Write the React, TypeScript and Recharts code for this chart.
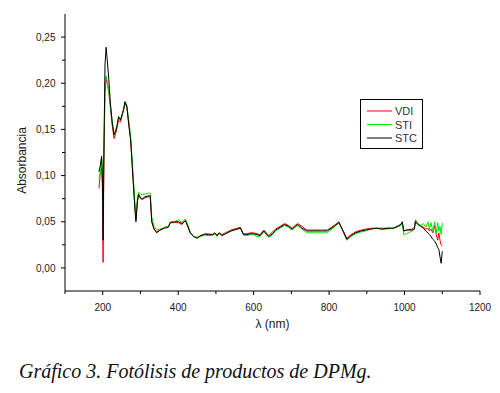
import { LineChart, Line, XAxis, YAxis, Legend } from "recharts";

// wavelength grid (nm) shared by all three spectra
const wavelengths = [
  190, 194, 197, 199, 201, 203, 206, 209, 212, 216, 220, 225, 230, 234, 238,
  242, 247, 252, 256, 259, 264, 270, 274, 280, 285, 288, 292, 295, 300, 305,
  312, 320, 326, 330, 336, 343, 352, 364, 374, 379, 390, 401, 410, 419, 426,
  432, 441, 450, 460, 470, 480, 490, 497, 503, 509, 516, 525, 540, 556, 565,
  573, 582, 591, 600, 609, 617, 627, 640, 650, 658, 670, 682, 692, 702, 710,
  717, 728, 741, 760, 780, 795, 810, 826, 835, 847, 858, 870, 885, 897, 910,
  925, 940, 955, 970, 981, 990, 994, 998, 1005, 1020, 1026, 1029, 1035, 1043,
  1050, 1056, 1062, 1066, 1070, 1075, 1080, 1084, 1088, 1091, 1094, 1097, 1100,
];

const vdi = [
  0.086, 0.104, 0.108, 0.09, 0.006, 0.11, 0.19, 0.205, 0.2, 0.19, 0.175, 0.155, 0.14, 0.145, 0.152,
  0.16, 0.158, 0.166, 0.172, 0.178, 0.174, 0.152, 0.139, 0.1, 0.068, 0.053, 0.072, 0.079, 0.075, 0.074,
  0.076, 0.077, 0.077, 0.05, 0.042, 0.039, 0.041, 0.044, 0.045, 0.049, 0.049, 0.049, 0.047, 0.052, 0.044,
  0.038, 0.034, 0.033, 0.035, 0.037, 0.037, 0.036, 0.037, 0.036, 0.038, 0.036, 0.038, 0.041, 0.043, 0.044,
  0.037, 0.037, 0.038, 0.038, 0.037, 0.036, 0.041, 0.035, 0.039, 0.042, 0.045, 0.048, 0.046, 0.043, 0.046,
  0.048, 0.045, 0.041, 0.041, 0.041, 0.041, 0.045, 0.05, 0.042, 0.032, 0.036, 0.039, 0.041, 0.042, 0.043,
  0.043, 0.043, 0.043, 0.043, 0.045, 0.047, 0.049, 0.04, 0.041, 0.042, 0.044, 0.052, 0.048, 0.046,
  0.044, 0.042, 0.043, 0.04, 0.042, 0.038, 0.046, 0.036, 0.03, 0.038, 0.03, 0.025, 0.024,
];

const sti = [
  0.095, 0.105, 0.12, 0.11, 0.06, 0.13, 0.2, 0.208, 0.202, 0.192, 0.178, 0.158, 0.146, 0.149, 0.155,
  0.163, 0.161, 0.167, 0.173, 0.18, 0.176, 0.156, 0.142, 0.105, 0.072, 0.056, 0.076, 0.082, 0.08, 0.079,
  0.08, 0.081, 0.081, 0.055, 0.045, 0.041, 0.042, 0.044, 0.045, 0.05, 0.05, 0.052, 0.049, 0.053, 0.046,
  0.038, 0.034, 0.033, 0.034, 0.036, 0.035, 0.035, 0.037, 0.034, 0.037, 0.035, 0.037, 0.04, 0.042, 0.043,
  0.036, 0.035, 0.036, 0.036, 0.034, 0.034, 0.039, 0.033, 0.036, 0.04, 0.043, 0.046, 0.044, 0.041, 0.044,
  0.046, 0.042, 0.038, 0.038, 0.038, 0.038, 0.043, 0.049, 0.041, 0.03, 0.034, 0.037, 0.039, 0.04, 0.042,
  0.043, 0.042, 0.042, 0.043, 0.044, 0.046, 0.048, 0.036, 0.037, 0.04, 0.042, 0.051, 0.048, 0.046,
  0.048, 0.044, 0.05, 0.042, 0.049, 0.04, 0.05, 0.038, 0.049, 0.04, 0.045, 0.036, 0.049,
];

const stc = [
  0.104, 0.112, 0.121, 0.1, 0.03, 0.12, 0.22, 0.239, 0.225, 0.205, 0.18, 0.158, 0.144, 0.148, 0.154,
  0.164, 0.16, 0.167, 0.173, 0.18, 0.175, 0.152, 0.139, 0.098, 0.066, 0.05, 0.072, 0.08, 0.076, 0.075,
  0.077, 0.078, 0.078, 0.05, 0.042, 0.038, 0.041, 0.043, 0.044, 0.049, 0.05, 0.05, 0.048, 0.051, 0.045,
  0.038, 0.034, 0.032, 0.035, 0.036, 0.036, 0.036, 0.038, 0.035, 0.038, 0.035, 0.037, 0.04, 0.042, 0.043,
  0.036, 0.036, 0.037, 0.037, 0.036, 0.035, 0.04, 0.034, 0.037, 0.041, 0.044, 0.047, 0.045, 0.042, 0.045,
  0.047, 0.043, 0.04, 0.04, 0.04, 0.04, 0.044, 0.049, 0.042, 0.031, 0.035, 0.038, 0.04, 0.041, 0.042,
  0.043, 0.042, 0.043, 0.043, 0.045, 0.047, 0.05, 0.04, 0.041, 0.041, 0.042, 0.05, 0.047, 0.045,
  0.043, 0.04, 0.038, 0.036, 0.034, 0.031, 0.029, 0.026, 0.022, 0.02, 0.012, 0.005, 0.018,
];

const xTicks = [100, 200, 300, 400, 500, 600, 700, 800, 900, 1000, 1100, 1200];
const yTicks = [0, 0.025, 0.05, 0.075, 0.1, 0.125, 0.15, 0.175, 0.2, 0.225, 0.25];

const series = [
  { key: "vdi", name: "VDI", color: "#ff0000" },
  { key: "sti", name: "STI", color: "#00ee00" },
  { key: "stc", name: "STC", color: "#000000" },
];

const data = wavelengths.map((wl, i) => ({ wl, vdi: vdi[i], sti: sti[i], stc: stc[i] }));

const TEXT = "#1a1a1a";
const SANS = "Arial, 'Liberation Sans', sans-serif";

const XTick = ({ x, y, payload }: any) => {
  const major = payload.value % 200 === 0;
  return (
    <g>
      <line x1={x} x2={x} y1={y} y2={y + (major ? 4 : 3)} stroke="#000" />
      {major && (
        <text x={x} y={y + 19.5} textAnchor="middle" fontSize={10} fontFamily={SANS} fill={TEXT}>
          {payload.value}
        </text>
      )}
    </g>
  );
};

const YTick = ({ x, y, payload }: any) => {
  const major = Math.round(payload.value * 1000) % 50 === 0;
  return (
    <g>
      <line x1={x} x2={x - (major ? 4 : 3)} y1={y} y2={y} stroke="#000" />
      {major && (
        <text x={x - 9.5} y={y + 3.6} textAnchor="end" fontSize={10} fontFamily={SANS} fill={TEXT}>
          {payload.value.toFixed(2).replace(".", ",")}
        </text>
      )}
    </g>
  );
};

const YTitle = ({ viewBox }: any) => {
  const cx = viewBox.x + 22;
  const cy = viewBox.y + viewBox.height / 2 + 8;
  return (
    <text
      x={cx}
      y={cy}
      transform={`rotate(-90 ${cx} ${cy})`}
      textAnchor="middle"
      dominantBaseline="central"
      fontSize={12}
      fontFamily={SANS}
      fill={TEXT}
    >
      Absorbancia
    </text>
  );
};

const XTitle = ({ viewBox }: any) => (
  <text
    x={viewBox.x + viewBox.width / 2}
    y={viewBox.y + 37}
    textAnchor="middle"
    fontSize={12}
    fontFamily={SANS}
    fill={TEXT}
  >
    λ (nm)
  </text>
);

// framed legend box, as in the original Origin plot
const LegendBox = () => (
  <svg width={63} height={50} style={{ display: "block" }}>
    <rect x={0.5} y={0.5} width={62} height={49} fill="#fff" stroke="#000" />
    {series.map((s, i) => {
      const cy = 12 + i * 13.5;
      return (
        <g key={s.key}>
          <line x1={7} x2={32} y1={cy} y2={cy} stroke={s.color} strokeWidth={1} />
          <text x={35} y={cy + 4} fontSize={11} fontFamily={SANS} fill="#333">
            {s.name}
          </text>
        </g>
      );
    })}
  </svg>
);

export default function App() {
  return (
    <div style={{ position: "absolute", left: 0, top: 0, width: 500, height: 393, background: "#fff" }}>
      <LineChart
        width={500}
        height={393}
        data={data}
        margin={{ top: 14, right: 20, bottom: 62, left: 0 }}
      >
        <XAxis
          dataKey="wl"
          type="number"
          domain={[100, 1200]}
          ticks={xTicks}
          interval={0}
          height={40}
          tickSize={0}
          tickMargin={0}
          tickLine={false}
          axisLine={{ stroke: "#000" }}
          tick={<XTick />}
          label={<XTitle />}
          allowDataOverflow
        />
        <YAxis
          type="number"
          domain={[-0.025, 0.275]}
          ticks={yTicks}
          interval={0}
          width={65}
          tickSize={0}
          tickMargin={0}
          tickLine={false}
          axisLine={{ stroke: "#000" }}
          tick={<YTick />}
          label={<YTitle />}
          allowDataOverflow
        />
        <Legend
          layout="vertical"
          align="center"
          verticalAlign="middle"
          content={<LegendBox />}
          wrapperStyle={{ left: 360, top: 99, width: 63, height: 50 }}
        />
        {series.map((s) => (
          <Line
            key={s.key}
            type="linear"
            dataKey={s.key}
            name={s.name}
            stroke={s.color}
            strokeWidth={1}
            dot={false}
            isAnimationActive={false}
          />
        ))}
      </LineChart>
      <div
        style={{
          position: "absolute",
          left: 19,
          top: 361,
          fontFamily: "'Liberation Serif', 'Times New Roman', serif",
          fontStyle: "italic",
          fontSize: 20,
          lineHeight: "20px",
          color: "#111",
          whiteSpace: "nowrap",
        }}
      >
        Gráfico 3. Fotólisis de productos de DPMg.
      </div>
    </div>
  );
}
